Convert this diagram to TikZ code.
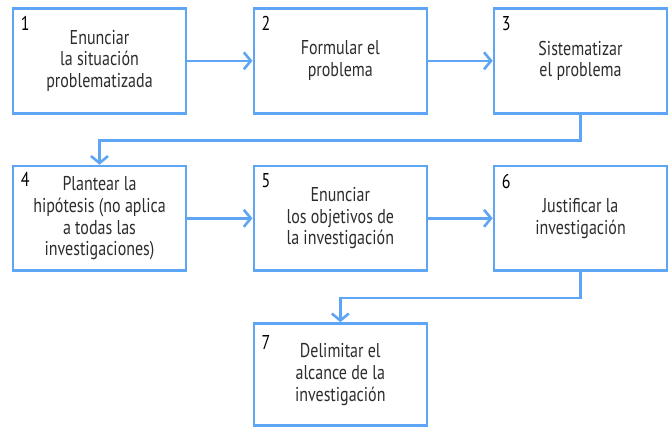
\documentclass[tikz,border=0pt]{standalone}
\usepackage{fontspec}
\setmainfont[FakeStretch=0.8]{PT Sans}
\usetikzlibrary{arrows.meta}
\definecolor{boxblue}{RGB}{95,165,245}
\definecolor{txt}{RGB}{45,45,45}
\tikzset{
  stepbox/.style={draw=boxblue, line width=2.6pt, fill=white, minimum width=173pt, inner sep=0pt,
    align=center, text=txt, font=\fontsize{20}{21.7}\selectfont},
  numlbl/.style={anchor=north west, inner sep=0pt, text=black, font=\fontsize{20}{21.7}\selectfont},
  conn/.style={draw=boxblue, line width=2.6pt, -{Straight Barb[length=7pt,width=17pt,line width=2.6pt]}},
}
\begin{document}
\begin{tikzpicture}[x=1pt,y=-1pt]
\useasboundingbox (0,0) rectangle (668,428);
\node[stepbox, minimum height=105pt] (b1) at (99.5,60.8) {Enunciar\\la situación\\problematizada};
\node[stepbox, minimum height=105pt] (b2) at (340.3,60.8) {Formular el\\problema};
\node[stepbox, minimum height=105pt] (b3) at (580.5,60.8) {Sistematizar\\el problema};
\node[stepbox, minimum height=104.5pt] (b4) at (99.5,218.3) {Plantear la\\hipótesis (no aplica\\a todas las\\investigaciones)};
\node[stepbox, minimum height=104.5pt] (b5) at (340.3,218.3) {Enunciar\\los objetivos de\\la investigación};
\node[stepbox, minimum height=104.5pt] (b6) at (580.5,218.3) {Justificar la\\investigación};
\node[stepbox, minimum height=102pt] (b7) at (340.3,374.5) {Delimitar el\\alcance de la\\investigación};
\node[numlbl] (n1) at ([xshift=9pt,yshift=-9pt]b1.north west) {1};
\node[numlbl] (n2) at ([xshift=9pt,yshift=-9pt]b2.north west) {2};
\node[numlbl] (n3) at ([xshift=9pt,yshift=-9pt]b3.north west) {3};
\node[numlbl] (n4) at ([xshift=9pt,yshift=-7pt]b4.north west) {4};
\node[numlbl] (n5) at ([xshift=9pt,yshift=-9pt]b5.north west) {5};
\node[numlbl] (n6) at ([xshift=9pt,yshift=-9pt]b6.north west) {6};
\node[numlbl] (n7) at ([xshift=9pt,yshift=-13pt]b7.north west) {7};
\draw[conn] (b1.east) -- (b2.west);
\draw[conn] (b2.east) -- (b3.west);
\coordinate (c1) at ([yshift=-26pt]b3.south);
\draw[conn] (b3.south) -- (c1) -| (b4.north);
\draw[conn] (b4.east) -- (b5.west);
\draw[conn] (b5.east) -- (b6.west);
\coordinate (c2) at ([yshift=-26pt]b6.south);
\draw[conn] (b6.south) -- (c2) -| (b7.north);
\end{tikzpicture}
\end{document}
